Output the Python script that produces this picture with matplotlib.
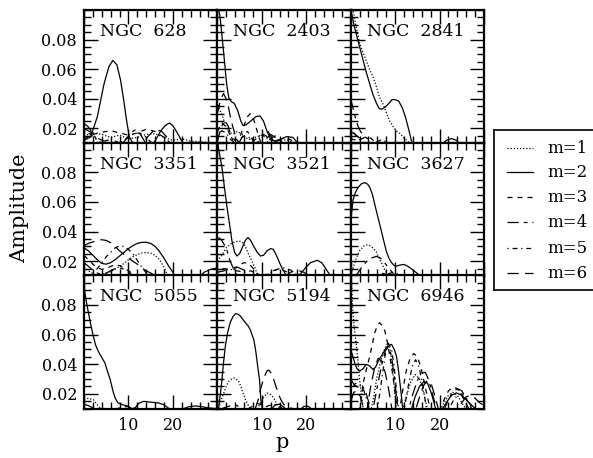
import matplotlib
matplotlib.use("Agg")
import matplotlib.pyplot as plt
from matplotlib.ticker import MultipleLocator

plt.rcParams['font.family'] = ['DejaVu Serif']

# (p, amplitude), one list per galaxy and mode
n628_m1 = [(0,0.015),(2,0.017),(4,0.016),(6,0.014),(8,0.0155),(10,0.013),(12,0.014),(14,0.016),(16,0.0165),(18,0.014),(20,0.012),(22,0.013),(24,0.0115),(26,0.011),(28,0.0105)]
n628_m2 = [(0,0.012),(1.5,0.0143),(3.0,0.028),(4.5,0.050),(5.6,0.0617),(6.5,0.066),(7.4,0.063),(8.2,0.053),(8.9,0.040),(9.5,0.027),(10.2,0.0143),(10.9,0.0107),(13,0.008),(15.8,0.0107),(17.3,0.0185),(18.3,0.022),(19.2,0.0237),(20.0,0.022),(20.7,0.0185),(22.2,0.0107),(23,0.009)]
n628_m3 = [(0,0.013),(2,0.016),(4,0.0175),(6,0.0185),(8,0.017),(10,0.0155),(12,0.017),(14,0.0195),(16,0.018),(18,0.014),(19.5,0.010)]
n628_m4 = [(0,0.0235),(1,0.021),(2,0.0165),(3,0.012),(4,0.0095),(6,0.006),(9,0.011),(10.5,0.017),(11.5,0.019),(12.5,0.017),(13.5,0.012),(14,0.0095)]
n628_m5 = [(0,0.018),(1.5,0.016),(3,0.012),(4.5,0.0095),(7,0.009),(9,0.012),(11,0.016),(12.5,0.017),(14,0.014),(15.5,0.0095)]
n628_m6 = [(0,0.02),(1.5,0.0175),(3,0.0135),(4.5,0.0115),(6,0.0125),(7.5,0.011),(9,0.008),(13,0.009),(14.5,0.015),(16,0.0195),(17.5,0.018),(19,0.013),(20,0.0095)]

n2403_m1 = [(0,0.038),(0.5,0.033),(1.2,0.028),(2,0.021),(2.8,0.017),(3.6,0.0165),(4.5,0.018),(5.5,0.0165),(6.5,0.0135),(7.5,0.0125),(8.5,0.014),(10,0.0155),(11.5,0.013),(13,0.0115),(15,0.0125),(17,0.011),(18,0.0095)]
n2403_m2 = [(0.3,0.1),(0.6,0.096),(1.0,0.084),(1.6,0.066),(2.1,0.050),(2.6,0.0405),(3.2,0.038),(3.8,0.037),(4.6,0.032),(5.3,0.025),(5.8,0.022),(6.5,0.0225),(7.5,0.025),(8.7,0.028),(9.6,0.0285),(10.4,0.025),(11.2,0.018),(12.0,0.013),(12.8,0.0115),(14,0.0125),(15.6,0.0145),(17,0.014),(18,0.0105),(18.5,0.009)]
n2403_m3 = [(0,0.018),(1,0.024),(2,0.021),(3,0.015),(4,0.012),(5,0.0135),(6,0.022),(6.8,0.028),(7.4,0.030),(8.0,0.028),(8.8,0.020),(9.5,0.013),(10,0.009),(11,0.01),(12,0.0135),(13,0.015),(14,0.0125),(15,0.009)]
n2403_m4 = [(0,0.011),(0.8,0.02),(1.6,0.0256),(2.4,0.022),(3.2,0.014),(4,0.0095),(5,0.011),(6,0.0165),(6.8,0.018),(7.6,0.014),(8.4,0.01),(9.6,0.0115),(10.6,0.017),(11.4,0.018),(12.2,0.014),(13,0.0095)]
n2403_m5 = [(0,0.015),(1,0.0185),(2,0.017),(3,0.0125),(4,0.0105),(5,0.0125),(6,0.015),(7,0.0145),(8,0.0115),(9,0.0135),(10,0.0165),(11,0.015),(12,0.012),(13.5,0.0115),(15,0.0135),(16.5,0.0125),(17.5,0.0095)]
n2403_m6 = [(0,0.03),(0.8,0.040),(1.4,0.0436),(2.0,0.040),(2.5,0.0346),(3.0,0.027),(3.5,0.021),(4.2,0.014),(5,0.0095),(9,0.008),(11,0.013),(12,0.016),(13,0.014),(14,0.009)]

n2841_m1 = [(0,0.11),(1,0.092),(2,0.0776),(3.2,0.068),(4.1,0.061),(5.0,0.055),(5.8,0.048),(6.5,0.041),(7.4,0.0357),(8.1,0.030),(8.8,0.025),(9.6,0.021),(10.4,0.018),(11.1,0.0166),(12,0.0135),(12.8,0.0115),(13.5,0.0095)]
n2841_m2 = [(0,0.102),(0.2,0.0977),(0.8,0.089),(1.4,0.082),(2.1,0.074),(2.8,0.066),(3.5,0.058),(4.3,0.050),(5.0,0.043),(5.8,0.037),(6.4,0.0335),(7.0,0.033),(7.8,0.0345),(8.6,0.037),(9.3,0.0395),(10.0,0.0395),(10.8,0.0385),(11.6,0.034),(12.3,0.028),(13.0,0.020),(13.6,0.0125),(14.0,0.009),(20.5,0.009),(21.5,0.012),(22.7,0.0132),(23.8,0.012),(24.8,0.009)]
n2841_m3 = [(0,0.013),(1.5,0.012),(2.5,0.013),(3.5,0.0145),(4.5,0.0135),(5.5,0.011),(6.5,0.0095)]
n2841_m4 = [(0,0.04),(0.5,0.034),(1,0.028),(1.6,0.022),(2.2,0.018),(2.9,0.0155),(3.6,0.0135),(4.5,0.0125),(5,0.0095)]
n2841_m5 = [(0,0.02),(1,0.016),(2,0.0125),(3,0.0105),(4,0.0095),(6,0.011),(7,0.0125),(8,0.011),(9,0.0095)]
n2841_m6 = [(0,0.018),(1,0.016),(2,0.0135),(3,0.011),(4,0.0095)]

n3351_m1 = [(0,0.016),(1,0.0135),(2,0.0115),(3,0.0105),(4,0.011),(5,0.012),(6,0.013),(7,0.0145),(8,0.0165),(9,0.0185),(10,0.021),(11,0.023),(12,0.0245),(13,0.0255),(14,0.0258),(15,0.0255),(16,0.024),(17,0.021),(18,0.016),(18.6,0.012),(19,0.0095)]
n3351_m2 = [(0,0.029),(1,0.027),(2,0.024),(3,0.021),(4,0.0185),(5,0.018),(6,0.019),(7,0.021),(8,0.0235),(9,0.026),(10,0.0285),(11,0.0305),(12,0.032),(13,0.0327),(14,0.0328),(15,0.032),(16,0.030),(17,0.0265),(18,0.022),(19,0.017),(20,0.0125),(20.6,0.009),(26,0.009),(27,0.0125),(28.5,0.0145),(30,0.0155)]
n3351_m3 = [(0,0.024),(1,0.021),(2,0.018),(3,0.0155),(4,0.0145),(5,0.015),(6,0.0165),(7,0.0175),(8,0.017),(9,0.0155),(10,0.0135),(11,0.0115),(12,0.0095)]
n3351_m4 = [(0,0.019),(1,0.0165),(2,0.014),(3,0.012),(4,0.011),(5,0.012),(6,0.0135),(7,0.015),(8,0.0155),(9,0.0145),(10,0.0125),(11,0.0105),(12,0.0095)]
n3351_m5 = [(2,0.012),(3,0.015),(4,0.019),(5,0.023),(6,0.026),(7,0.029),(8,0.0303),(9,0.030),(10,0.028),(11,0.025),(12,0.0205),(13,0.016),(14,0.012),(14.6,0.0095)]
n3351_m6 = [(0,0.0305),(1,0.032),(2,0.033),(3,0.034),(4,0.0345),(5,0.034),(6,0.0325),(7,0.030),(8,0.027),(9,0.0245),(10,0.022),(11,0.020),(12,0.018),(13,0.0155),(14,0.0135),(15,0.012),(16,0.0105)]

n3521_m1 = [(0,0.020),(1,0.024),(2,0.029),(2.9,0.0314),(3.8,0.0328),(4.8,0.0336),(5.6,0.033),(6.3,0.030),(7.0,0.025),(7.8,0.020),(8.4,0.016),(8.9,0.0122),(9.3,0.0095)]
n3521_m2 = [(0,0.104),(0.3,0.0957),(0.7,0.089),(1.05,0.0833),(1.6,0.070),(2.2,0.0562),(2.8,0.044),(3.3,0.0336),(3.9,0.026),(4.4,0.0235),(5.0,0.025),(5.6,0.029),(6.3,0.034),(6.9,0.036),(7.5,0.034),(8.2,0.030),(9.0,0.026),(9.7,0.0235),(10.4,0.024),(11.2,0.027),(12.0,0.0285),(12.6,0.028),(13.3,0.024),(14.0,0.019),(14.7,0.0145),(15.3,0.0115),(16,0.009),(18,0.009),(19,0.0125),(20,0.016),(21,0.019),(22.5,0.0206),(23.5,0.019),(24.5,0.0145),(25.5,0.010),(26,0.0085)]
n3521_m3 = [(2,0.0095),(3,0.012),(4,0.015),(5,0.0175),(6,0.019),(7,0.0185),(8,0.0155),(9,0.0115),(9.5,0.0095),(11,0.01),(12.5,0.0135),(14,0.015),(15.5,0.013),(17,0.0095)]
n3521_m4 = [(0,0.036),(0.5,0.0355),(1,0.034),(1.6,0.031),(2.2,0.027),(2.9,0.020),(3.7,0.0145),(4.3,0.011),(5,0.0095)]
n3521_m5 = [(0,0.014),(1.5,0.015),(3,0.0145),(4.5,0.0135),(6,0.0125),(7.5,0.0135),(9,0.0115),(10.5,0.0105),(12,0.0125),(13.5,0.0145),(15,0.0155),(16.5,0.014),(18,0.0105)]
n3521_m6 = [(0,0.0125),(1.5,0.0135),(3,0.0155),(4.5,0.016),(6,0.014),(7,0.0115),(8,0.0095),(15,0.0095),(16.5,0.0125),(18,0.014),(19.5,0.0125),(21,0.0095)]

n3627_m1 = [(0,0.011),(0.6,0.016),(1.3,0.0224),(2.0,0.027),(2.8,0.030),(3.5,0.031),(4.3,0.0305),(5.0,0.029),(5.8,0.026),(6.4,0.022),(6.9,0.019),(7.5,0.015),(8.0,0.0122),(8.4,0.0095)]
n3627_m2 = [(0,0.046),(0.5,0.061),(1.0,0.066),(1.65,0.0698),(2.4,0.0722),(3.2,0.0731),(3.8,0.072),(4.3,0.0698),(4.9,0.065),(5.4,0.0585),(6.1,0.050),(6.9,0.0404),(7.5,0.033),(8.0,0.0269),(8.6,0.022),(9.2,0.019),(9.8,0.017),(10.3,0.0167),(11.0,0.0173),(11.8,0.0178),(12.5,0.0172),(13.3,0.0156),(14.0,0.014),(14.8,0.0122),(15.6,0.010),(16,0.009)]
n3627_m3 = [(5,0.0095),(6,0.011),(7,0.012),(8,0.011),(9,0.0095)]
n3627_m4 = [(1.0,0.0095),(1.7,0.0125),(2.5,0.016),(3.2,0.0185),(4.0,0.021),(5.0,0.0225),(5.8,0.0232),(6.5,0.0225),(7.3,0.0205),(8.0,0.0175),(8.8,0.0145),(9.5,0.012),(10,0.0095)]
n3627_m5 = [(7.5,0.0095),(8.5,0.0115),(9.5,0.0125),(10.5,0.0115),(11.5,0.0095)]
n3627_m6 = [(3,0.0095),(4,0.0105),(5,0.011),(6,0.0105),(7,0.0095)]

n5055_m1 = [(0,0.0165),(1,0.017),(2.1,0.016),(2.9,0.013),(3.6,0.0104),(4,0.009)]
n5055_m2 = [(0,0.093),(0.2,0.0883),(0.6,0.081),(1.0,0.0747),(1.5,0.067),(2.1,0.0589),(2.6,0.053),(3.2,0.0488),(3.9,0.045),(4.7,0.0409),(5.3,0.035),(5.9,0.0296),(6.5,0.022),(7.0,0.0172),(7.6,0.014),(8.1,0.0133),(8.8,0.0125),(9.6,0.012),(10.2,0.011),(10.8,0.010),(11.5,0.0105),(12.3,0.0135),(13.4,0.0149),(14.5,0.0145),(15.6,0.0142),(16.8,0.0138),(17.9,0.0127),(18.7,0.011),(19.4,0.0095),(22,0.0095),(23.5,0.0112),(25,0.0118),(26.5,0.0113),(28,0.0105),(30,0.010)]
n5055_m3 = [(7,0.0095),(8.5,0.011),(10,0.0115),(11.5,0.0105),(12.5,0.0095)]
n5055_m4 = [(0,0.013),(1,0.012),(2,0.0105),(2.5,0.0095)]

n5194_m1 = [(0.3,0.0104),(0.8,0.015),(1.4,0.020),(2.0,0.025),(2.6,0.0285),(3.2,0.030),(3.7,0.0307),(4.2,0.030),(4.8,0.0285),(5.4,0.024),(5.9,0.0194),(6.5,0.015),(7.1,0.0115),(7.5,0.0095),(9,0.0095),(9.7,0.0138),(10.5,0.018),(11.2,0.0205),(12,0.0195),(12.7,0.0172),(13.5,0.0125),(14.2,0.0095)]
n5194_m2 = [(0.3,0.0104),(0.7,0.020),(1.05,0.0296),(1.4,0.041),(1.8,0.052),(2.3,0.061),(2.9,0.068),(3.5,0.072),(4.1,0.0741),(4.7,0.0737),(5.2,0.0725),(5.8,0.070),(6.3,0.068),(6.9,0.066),(7.4,0.0634),(7.8,0.060),(8.2,0.0567),(8.6,0.050),(8.9,0.0431),(9.2,0.036),(9.5,0.0296),(9.8,0.016),(10.1,0.0104),(10.3,0.009),(12,0.009),(13,0.0125),(14,0.013),(15,0.011),(15.5,0.009),(18.5,0.009),(19.5,0.0115),(20.5,0.0115),(21.5,0.009)]
n5194_m3 = [(7,0.0095),(8,0.012),(9,0.0135),(10,0.0125),(11,0.0095)]
n5194_m4 = [(0.5,0.0095),(2,0.011),(3.5,0.0125),(4.5,0.012),(5.5,0.0095)]
n5194_m5 = [(10,0.0095),(11.5,0.012),(13,0.0125),(14.5,0.0105),(15,0.0095)]
n5194_m6 = [(8.5,0.0095),(9.2,0.016),(9.7,0.0228),(10.3,0.029),(10.8,0.033),(11.2,0.0355),(11.6,0.036),(12.1,0.034),(12.7,0.0296),(13.3,0.024),(13.8,0.0194),(14.4,0.0155),(15,0.0127),(16,0.011),(17.5,0.0095)]

n6946_m1 = [(0,0.100),(0.3,0.088),(0.5,0.0747),(0.9,0.062),(1.3,0.0522),(1.7,0.040),(2.0,0.0296),(2.4,0.019),(2.8,0.0104),(3.0,0.008),(4.5,0.008),(5.2,0.018),(5.8,0.0296),(6.5,0.039),(7.3,0.0477),(7.9,0.052),(8.4,0.0544),(9.0,0.048),(9.5,0.034),(9.9,0.022),(10.3,0.0104),(10.5,0.008),(11.5,0.008),(12.5,0.018),(13.5,0.028),(14.5,0.033),(15.5,0.030),(16.5,0.020),(17.2,0.0104),(17.5,0.008),(20,0.008),(21,0.014),(22,0.019),(23,0.021),(24,0.019),(25,0.014),(26,0.0095)]
n6946_m2 = [(0,0.050),(0.5,0.045),(0.9,0.0409),(1.4,0.037),(2.0,0.0352),(2.8,0.037),(3.5,0.0398),(4.2,0.039),(5.0,0.0364),(5.6,0.038),(6.2,0.042),(7.0,0.046),(7.8,0.050),(8.5,0.053),(9.2,0.0533),(9.8,0.050),(10.3,0.0454),(10.7,0.037),(11.0,0.0296),(11.4,0.019),(11.7,0.010),(11.9,0.008),(13.5,0.008),(14.5,0.018),(15.5,0.025),(16.5,0.0285),(17.3,0.027),(18.2,0.020),(19,0.011),(19.3,0.008),(20.5,0.009),(21.5,0.014),(22.7,0.019),(23.8,0.0206),(25,0.019),(26.3,0.015),(27.5,0.0115),(28.5,0.009)]
n6946_m3 = [(2.0,0.008),(2.8,0.0273),(3.5,0.036),(4.3,0.0454),(4.9,0.054),(5.4,0.0612),(6.0,0.066),(6.5,0.068),(7.1,0.066),(7.7,0.0623),(8.3,0.054),(8.8,0.0454),(9.4,0.034),(9.9,0.0228),(10.3,0.014),(10.7,0.009),(11,0.009),(11.8,0.024),(12.6,0.037),(13.4,0.044),(14.2,0.0472),(15,0.045),(15.8,0.038),(16.6,0.027),(17.4,0.016),(18,0.009),(20,0.009),(21,0.016),(22,0.022),(23,0.0245),(24,0.0235),(25,0.019),(26,0.013),(26.8,0.009)]
n6946_m4 = [(0,0.030),(0.8,0.026),(1.6,0.0245),(2.5,0.026),(3.3,0.022),(4,0.015),(4.5,0.009),(5,0.009),(6,0.025),(7,0.040),(7.8,0.049),(8.5,0.052),(9.2,0.045),(9.8,0.032),(10.3,0.018),(10.7,0.009),(13,0.009),(14,0.02),(15,0.029),(16,0.034),(16.8,0.0345),(17.6,0.029),(18.4,0.02),(19.2,0.011),(19.5,0.008),(21,0.009),(22,0.016),(23,0.021),(24,0.0235),(25,0.022),(26,0.017),(27,0.011),(27.5,0.009)]
n6946_m5 = [(0,0.022),(1,0.027),(2,0.026),(3,0.022),(3.8,0.014),(4.3,0.009),(6,0.009),(7,0.030),(7.8,0.047),(8.5,0.054),(9.2,0.050),(9.8,0.038),(10.3,0.022),(10.8,0.009),(12,0.009),(13,0.026),(13.8,0.038),(14.6,0.043),(15.4,0.038),(16.2,0.026),(17,0.011),(17.3,0.008),(22,0.009),(23,0.015),(24,0.019),(25,0.02),(26,0.017),(27,0.012),(28,0.009)]
n6946_m6 = [(0,0.015),(0.7,0.021),(1.4,0.022),(2.2,0.018),(2.8,0.011),(3.1,0.008),(3.6,0.008),(4.5,0.025),(5.4,0.038),(6.2,0.044),(7,0.042),(7.8,0.034),(8.6,0.022),(9.2,0.011),(9.5,0.008),(14.5,0.008),(15.5,0.018),(16.5,0.026),(17.3,0.029),(18.2,0.026),(19,0.018),(19.8,0.009),(24,0.009),(25,0.014),(26,0.018),(27,0.019),(28,0.017),(29,0.014),(30,0.012)]

names = ["NGC 628", "NGC 2403", "NGC 2841", "NGC 3351", "NGC 3521", "NGC 3627",
         "NGC 5055", "NGC 5194", "NGC 6946"]
curves = [
    [n628_m1, n628_m2, n628_m3, n628_m4, n628_m5, n628_m6],
    [n2403_m1, n2403_m2, n2403_m3, n2403_m4, n2403_m5, n2403_m6],
    [n2841_m1, n2841_m2, n2841_m3, n2841_m4, n2841_m5, n2841_m6],
    [n3351_m1, n3351_m2, n3351_m3, n3351_m4, n3351_m5, n3351_m6],
    [n3521_m1, n3521_m2, n3521_m3, n3521_m4, n3521_m5, n3521_m6],
    [n3627_m1, n3627_m2, n3627_m3, n3627_m4, n3627_m5, n3627_m6],
    [n5055_m1, n5055_m2, n5055_m3, n5055_m4, [], []],
    [n5194_m1, n5194_m2, n5194_m3, n5194_m4, n5194_m5, n5194_m6],
    [n6946_m1, n6946_m2, n6946_m3, n6946_m4, n6946_m5, n6946_m6],
]
modes = ["m=1", "m=2", "m=3", "m=4", "m=5", "m=6"]
styles = [(0, (1, 1.5)), '-', (0, (4, 4)), (0, (9, 4, 3, 4)), (0, (1, 3, 4, 3)), (0, (9, 5))]

W, H = 593, 458
fig = plt.figure(figsize=(W / 100, H / 100), dpi=100)

lefts = [84, 217.3, 350.7]
tops = [10, 142.7, 275.3]
pw = 133.3

for i, name in enumerate(names):
    r, c = divmod(i, 3)
    ax = fig.add_axes([lefts[c] / W, 1 - (tops[r] + pw) / H, pw / W, pw / H])
    for mode_pts, ls in zip(curves[i], styles):
        if not mode_pts:
            continue
        p = [q[0] for q in mode_pts]
        a = [q[1] for q in mode_pts]
        ax.plot(p, a, color='black', lw=0.9, ls=ls)
    ax.set_xlim(0, 30)
    ax.set_ylim(0.01, 0.1)
    ax.set_xticks([0, 10, 20, 30])
    ax.set_yticks([0.02, 0.04, 0.06, 0.08])
    ax.xaxis.set_minor_locator(MultipleLocator(2))
    ax.yaxis.set_minor_locator(MultipleLocator(0.005))
    ax.tick_params(which='both', direction='in', top=True, right=True, width=1)
    ax.tick_params(which='major', length=10)
    ax.tick_params(which='minor', length=5)
    if r == 2:
        ax.set_xticklabels(['', '10', '20', ''], fontsize=11.5)
    else:
        ax.set_xticklabels([])
    if c == 0:
        ax.set_yticklabels(['0.02', '0.04', '0.06', '0.08'], fontsize=11.5)
    else:
        ax.set_yticklabels([])
    ax.tick_params(axis='x', pad=6)
    ax.tick_params(axis='y', pad=5)
    for s in ax.spines.values():
        s.set_linewidth(1.6)
    ax.text(0.12, 0.84, name.replace(' ', '  '), transform=ax.transAxes,
            fontsize=12.5, ha='left', va='center')

fig.text(20 / W, 1 - 208 / H, 'Amplitude', rotation=90, fontsize=15,
         ha='center', va='center')
fig.text(282 / W, 1 - 443 / H, 'p', fontsize=15, ha='center', va='center')

# legend box
lg = fig.add_axes([494 / W, 1 - 290 / H, 106 / W, 160 / H])
lg.set_xlim(0, 1)
lg.set_ylim(0, 1)
lg.set_xticks([])
lg.set_yticks([])
for s in lg.spines.values():
    s.set_linewidth(1.2)
row_y = [148, 172, 197, 222, 248, 273]
for lab, ls, y in zip(modes, styles, row_y):
    yy = (290 - y) / 160
    lg.plot([0.123, 0.368], [yy, yy], color='black', lw=0.9, ls=ls)
    lg.text(0.5, yy, lab, fontsize=12, ha='left', va='center')

fig.savefig('out.png', dpi=100)
